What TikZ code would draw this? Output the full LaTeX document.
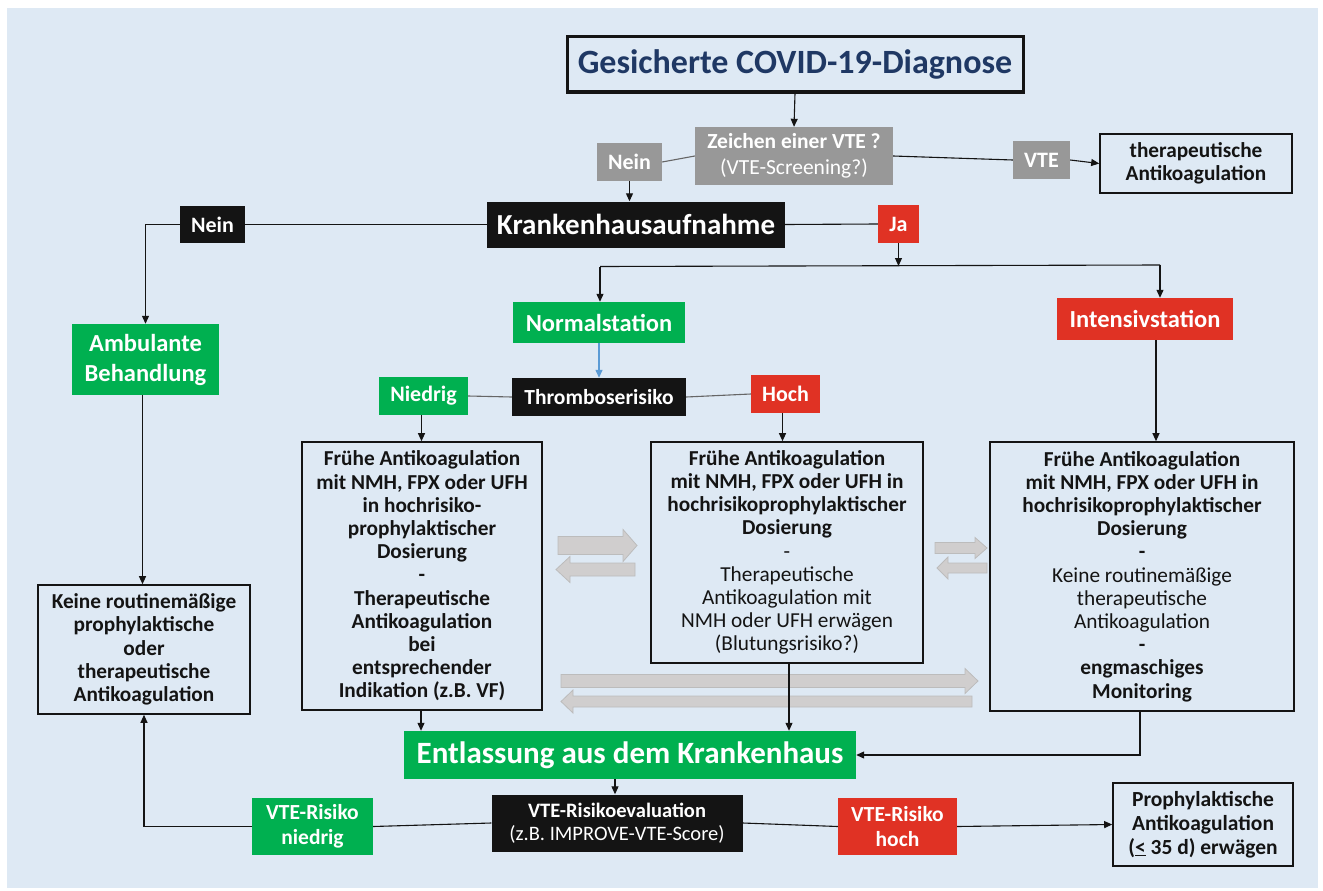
\documentclass[tikz,border=0pt]{standalone}
\usepackage{fontspec}
\setmainfont{Carlito}
\usetikzlibrary{arrows.meta,calc}
\definecolor{bgblue}{RGB}{222,233,244}
\definecolor{cgreen}{RGB}{0,176,80}
\definecolor{cred}{RGB}{224,50,36}
\definecolor{cgray}{RGB}{152,152,152}
\definecolor{cblack}{RGB}{20,20,20}
\definecolor{navy}{RGB}{31,56,100}
\definecolor{arrfill}{RGB}{208,206,206}
\definecolor{arrdraw}{RGB}{188,188,188}
\definecolor{lblue}{RGB}{91,155,213}
\newcommand{\fsz}[2]{\fontsize{#1}{#2}\selectfont}
\newcommand{\grayarrow}[6]{%
  \filldraw[garr] (#1,#4-#5) -- (#2,#4-#5) -- (#2,#4-#6) -- (#3,#4) -- (#2,#4+#6) -- (#2,#4+#5) -- (#1,#4+#5) -- cycle;}
\begin{document}
\begin{tikzpicture}[x=1pt,y=-1pt,
  box/.style={inner sep=0pt, align=center, anchor=center},
  fillbox/.style={box, text=white, font=\bfseries\fsz{22}{26}},
  greenbox/.style={fillbox, fill=cgreen},
  redbox/.style={fillbox, fill=cred},
  graybox/.style={fillbox, fill=cgray},
  blackbox/.style={fillbox, fill=cblack},
  outline/.style={box, draw=cblack, line width=1.6pt, text=cblack, font=\bfseries\fsz{21.3}{23.2}},
  conn/.style={draw=cblack, line width=1.1pt},
  grayconn/.style={draw=gray!80!black, line width=1.1pt},
  arr/.style={conn, -{Triangle[length=8pt,width=7pt]}},
  garr/.style={fill=arrfill, draw=arrdraw, line width=0.8pt}
]
\useasboundingbox (0,0) rectangle (1323,891);
\fill[white] (0,0) rectangle (1323,891);
\fill[bgblue] (7,8) rectangle (1318,888);

% top
\node[box, draw=cblack, line width=3pt, text=navy, font=\bfseries\fsz{34}{40},
  minimum width=456pt, minimum height=55pt] (title) at (795,64.5) {Gesicherte COVID-19-Diagnose};
\node[graybox, font=\bfseries\fsz{21.5}{26}, minimum width=198pt, minimum height=58pt] (zeichen) at (794,156)
  {Zeichen einer VTE ?\\{\mdseries (VTE-Screening?)}};
\node[graybox, minimum width=65pt, minimum height=38pt] (neing) at (629.5,162) {Nein};
\node[graybox, minimum width=57pt, minimum height=38pt] (vte) at (1041.5,160) {VTE};
\node[outline, minimum width=192pt, minimum height=59pt] (thera) at (1196,163.5)
  {therapeutische\\Antikoagulation};

\node[blackbox, font=\bfseries\fsz{29}{34}, minimum width=298pt, minimum height=46pt] (kh) at (636,224.5) {Krankenhausaufnahme};
\node[blackbox, minimum width=65pt, minimum height=37pt] (neinb) at (212.5,224.5) {Nein};
\node[redbox, minimum width=41pt, minimum height=38pt] (ja) at (898.5,224) {Ja};

\node[greenbox, font=\bfseries\fsz{24.5}{30}, minimum width=172pt, minimum height=41pt] (normal) at (599,322.5) {Normalstation};
\node[redbox, font=\bfseries\fsz{24.5}{30}, minimum width=176pt, minimum height=42pt] (intens) at (1145,319) {Intensivstation};
\node[greenbox, font=\bfseries\fsz{24.5}{30}, minimum width=147pt, minimum height=71pt] (amb) at (145.5,359.5) {Ambulante\\Behandlung};

\node[blackbox, font=\bfseries\fsz{21.5}{26}, minimum width=174pt, minimum height=38pt] (thrombo) at (599,397) {Thromboserisiko};
\node[greenbox, minimum width=89pt, minimum height=38pt] (niedrig) at (423.5,396) {Niedrig};
\node[redbox, minimum width=69pt, minimum height=38pt] (hoch) at (785.5,394) {Hoch};

% big boxes
\node[outline, minimum width=240pt, minimum height=268pt] (leftbox) at (422,576)
  {Frühe Antikoagulation\\mit NMH, FPX oder UFH\\in hochrisiko-\\prophylaktischer\\Dosierung\\-\\Therapeutische\\Antikoagulation\\bei\\entsprechender\\Indikation (z.B. VF)};
\node[outline, minimum width=272pt, minimum height=221pt] (midbox) at (787,552.5)
  {Frühe Antikoagulation\\mit NMH, FPX oder UFH in\\hochrisikoprophylaktischer\\Dosierung\\{\mdseries -}\\{\mdseries Therapeutische}\\{\mdseries Antikoagulation mit}\\{\mdseries NMH oder UFH erwägen}\\{\mdseries (Blutungsrisiko?)}};
\node[outline, minimum width=304pt, minimum height=269pt] (rightbox) at (1142,576.5)
  {Frühe Antikoagulation\\mit NMH, FPX oder UFH in\\hochrisikoprophylaktischer\\Dosierung\\-\\{\mdseries Keine routinemäßige}\\{\mdseries therapeutische}\\{\mdseries Antikoagulation}\\-\\engmaschiges\\Monitoring};
\node[outline, minimum width=212pt, minimum height=129pt] (keine) at (144,649.5)
  {Keine routinemäßige\\prophylaktische\\oder\\therapeutische\\Antikoagulation};

% bottom
\node[greenbox, font=\bfseries\fsz{31}{36}, minimum width=452pt, minimum height=48pt] (entl) at (630,755) {Entlassung aus dem Krankenhaus};
\node[blackbox, font=\bfseries\fsz{20.5}{23}, minimum width=251pt, minimum height=57pt] (eval) at (617,823)
  {VTE-Risikoevaluation\\{\mdseries (z.B. IMPROVE-VTE-Score)}};
\node[greenbox, font=\bfseries\fsz{21.5}{25}, minimum width=121pt, minimum height=57pt] (niedrig2) at (312.5,826.5) {VTE-Risiko\\niedrig};
\node[redbox, font=\bfseries\fsz{21.5}{25}, minimum width=119pt, minimum height=57pt] (hoch2) at (897.5,826.5) {VTE-Risiko\\hoch};
\node[outline, font=\bfseries\fsz{21.5}{24}, minimum width=180pt, minimum height=83pt] (proph) at (1203,824.5)
  {Prophylaktische\\Antikoagulation\\(\underline{<} 35 d) erwägen};

% gray block arrows
\grayarrow{558}{623}{637}{545.5}{9}{16}
\grayarrow{635}{570}{556}{569.5}{6.5}{13}
\grayarrow{935}{975}{987}{548}{5.5}{10.5}
\grayarrow{987}{948}{937}{568}{5}{11}
\grayarrow{561}{965}{978}{681}{6.5}{12.5}
\grayarrow{972}{573}{561}{701.5}{5.5}{11.5}

% connectors
\draw[arr] (title.south) -- (zeichen.north);
\draw[grayconn] (zeichen.west) -- (neing.east);
\draw[arr] (neing.south) -- (neing.south |- kh.north);
\draw[conn] (zeichen.east) -- (vte.west);
\draw[arr] (vte.east) -- (thera.west);

\draw[conn] (kh.west) -- (neinb.east);
\draw[arr] (neinb.west) -| (amb.north);
\draw[conn] (kh.east) -- (ja.west);
\coordinate (jl) at (600,266.5);
\coordinate (jr) at (1160,265);
\coordinate (jm) at (898.5,266);
\draw[arr] (ja.south) -- (jm);
\draw[conn] (jl) -- (jr);
\draw[arr] (jl) -- (jl |- normal.north);
\draw[arr] (jr) -- (jr |- intens.north);

\draw[draw=lblue, line width=1.3pt, -{Triangle[length=8pt,width=7pt]}] (normal.south) -- (thrombo.north);
\draw[grayconn] (thrombo.west) -- (niedrig.east);
\draw[grayconn] (thrombo.east) -- (hoch.west);
\draw[arr] ([xshift=-2pt]niedrig.south) -- ([xshift=-2pt]niedrig.south |- leftbox.north);
\draw[arr] ([xshift=-3pt]hoch.south) -- ([xshift=-3pt]hoch.south |- midbox.north);
\draw[arr] ([xshift=11pt]intens.south) -- ([xshift=11pt]intens.south |- rightbox.north);
\draw[arr] ([xshift=-3pt]amb.south) -- ([xshift=-3pt]amb.south |- keine.north);

\draw[arr] ([xshift=-1pt]leftbox.south) -- ([xshift=-1pt]leftbox.south |- entl.north);
\draw[arr] ([xshift=2pt]midbox.south) -- ([xshift=2pt]midbox.south |- entl.north);
\draw[arr] ([xshift=-2pt]rightbox.south) |- (entl.east);
\draw[arr] ([xshift=-15pt]entl.south) -- ([xshift=-15pt]entl.south |- eval.north);

\draw[conn] (eval.west) -- (niedrig2.east);
\draw[arr] (niedrig2.west) -| (keine.south);
\draw[conn] (eval.east) -- (hoch2.west);
\draw[arr] (hoch2.east) -- (proph.west);
\end{tikzpicture}
\end{document}
